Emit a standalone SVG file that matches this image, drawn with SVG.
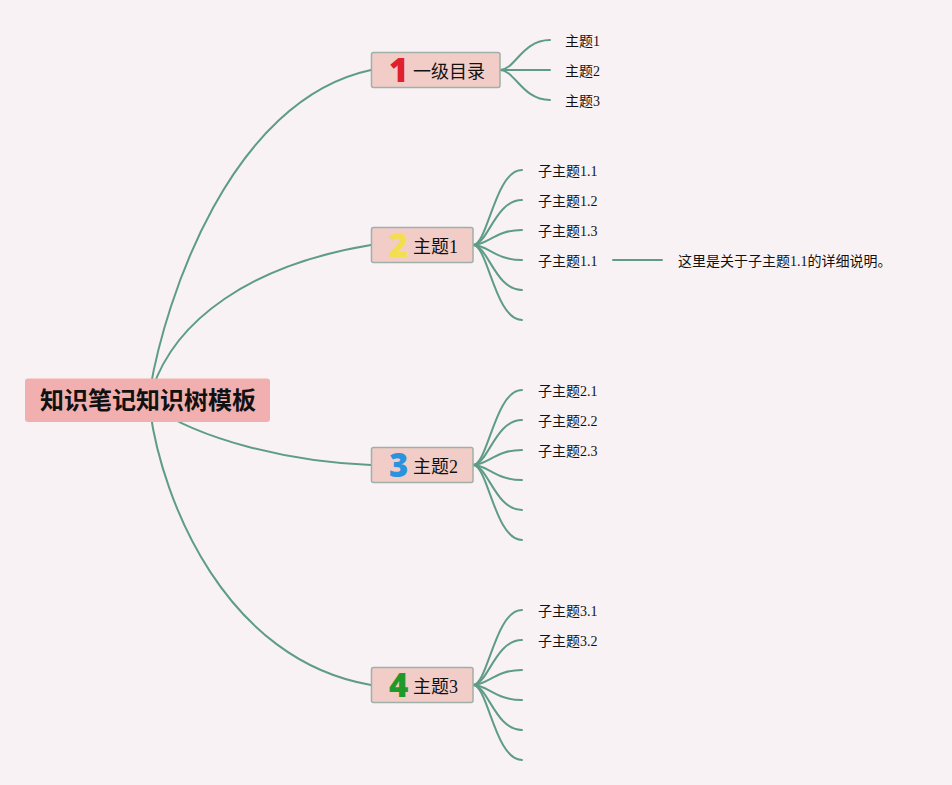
<svg xmlns="http://www.w3.org/2000/svg" width="952" height="785" viewBox="0 0 952 785">
<style>
.bg{fill:#f9f2f4}
.ln{fill:none;stroke:#5e9c88;stroke-width:2;stroke-linecap:round}
.root{fill:#f2afaf}
.topic{fill:#f2cdc8;stroke:#9fb0a8;stroke-width:1.5}
.rt{font-family:"Noto Sans CJK SC","Noto Sans",sans-serif;font-weight:700;font-size:24px;fill:#111;text-anchor:middle}
.tt{font-family:"Liberation Serif","Noto Sans CJK SC",serif;font-size:18px;fill:#111}
.num{font-family:"Noto Sans","DejaVu Sans",sans-serif;font-weight:900;font-size:33px}
.st{font-family:"Liberation Serif","Noto Sans CJK SC",serif;font-size:14px;fill:#111}
</style>
<rect class="bg" x="0" y="0" width="952" height="785"/>
<g id="connectors">
<path class="ln" d="M150 390 C165 300,230 100,371 70"/>
<path class="ln" d="M152 390 C175 320,250 265,371 245"/>
<path class="ln" d="M150 405 C200 440,290 462,371 465"/>
<path class="ln" d="M150 410 C162 500,225 660,371 685"/>
<path class="ln" d="M500 70 C515 70,522 40,550 40"/>
<path class="ln" d="M500 70 L550 70"/>
<path class="ln" d="M500 70 C515 70,522 100,550 100"/>
<path class="ln" d="M473 245 C488 245,495 170,522 170"/>
<path class="ln" d="M473 245 C488 245,495 200,522 200"/>
<path class="ln" d="M473 245 C488 245,495 230,522 230"/>
<path class="ln" d="M473 245 C488 245,495 260,522 260"/>
<path class="ln" d="M473 245 C488 245,495 290,522 290"/>
<path class="ln" d="M473 245 C488 245,495 320,522 320"/>
<path class="ln" d="M613 260 L662 260"/>
<path class="ln" d="M473 465 C488 465,495 390,522 390"/>
<path class="ln" d="M473 465 C488 465,495 420,522 420"/>
<path class="ln" d="M473 465 C488 465,495 450,522 450"/>
<path class="ln" d="M473 465 C488 465,495 480,522 480"/>
<path class="ln" d="M473 465 C488 465,495 510,522 510"/>
<path class="ln" d="M473 465 C488 465,495 540,522 540"/>
<path class="ln" d="M473 685 C488 685,495 610,522 610"/>
<path class="ln" d="M473 685 C488 685,495 640,522 640"/>
<path class="ln" d="M473 685 C488 685,495 670,522 670"/>
<path class="ln" d="M473 685 C488 685,495 700,522 700"/>
<path class="ln" d="M473 685 C488 685,495 730,522 730"/>
<path class="ln" d="M473 685 C488 685,495 760,522 760"/>
</g>
<g id="root">
<rect class="root" x="25" y="378.5" width="245" height="43.5" rx="3"/>
<text class="rt" x="148" y="409">知识笔记知识树模板</text>
</g>
<g id="topic0">
<rect class="topic" x="371.5" y="52.5" width="128.5" height="35" rx="2"/>
<text class="num" x="389" y="82" fill="#e0202c">1</text>
<text class="tt" x="413" y="77.5">一级目录</text>
</g>
<g id="topic1">
<rect class="topic" x="371.5" y="227.5" width="101.5" height="35" rx="2"/>
<text class="num" x="389" y="257" fill="#f3de52">2</text>
<text class="tt" x="413" y="252.5">主题1</text>
</g>
<g id="topic2">
<rect class="topic" x="371.5" y="447.5" width="101.5" height="35" rx="2"/>
<text class="num" x="389" y="477" fill="#2b93de">3</text>
<text class="tt" x="413" y="472.5">主题2</text>
</g>
<g id="topic3">
<rect class="topic" x="371.5" y="667.5" width="101.5" height="35" rx="2"/>
<text class="num" x="389" y="697" fill="#1f9a2a">4</text>
<text class="tt" x="413" y="692.5">主题3</text>
</g>
<g id="sub0">
<text class="st" x="565" y="46">主题1</text>
<text class="st" x="565" y="76">主题2</text>
<text class="st" x="565" y="106">主题3</text>
</g>
<g id="sub1">
<text class="st" x="538" y="176">子主题1.1</text>
<text class="st" x="538" y="206">子主题1.2</text>
<text class="st" x="538" y="236">子主题1.3</text>
<text class="st" x="538" y="266">子主题1.1</text>
<text class="st" x="678" y="266">这里是关于子主题1.1的详细说明。</text>
</g>
<g id="sub2">
<text class="st" x="538" y="396">子主题2.1</text>
<text class="st" x="538" y="426">子主题2.2</text>
<text class="st" x="538" y="456">子主题2.3</text>
</g>
<g id="sub3">
<text class="st" x="538" y="616">子主题3.1</text>
<text class="st" x="538" y="646">子主题3.2</text>
</g>
</svg>
